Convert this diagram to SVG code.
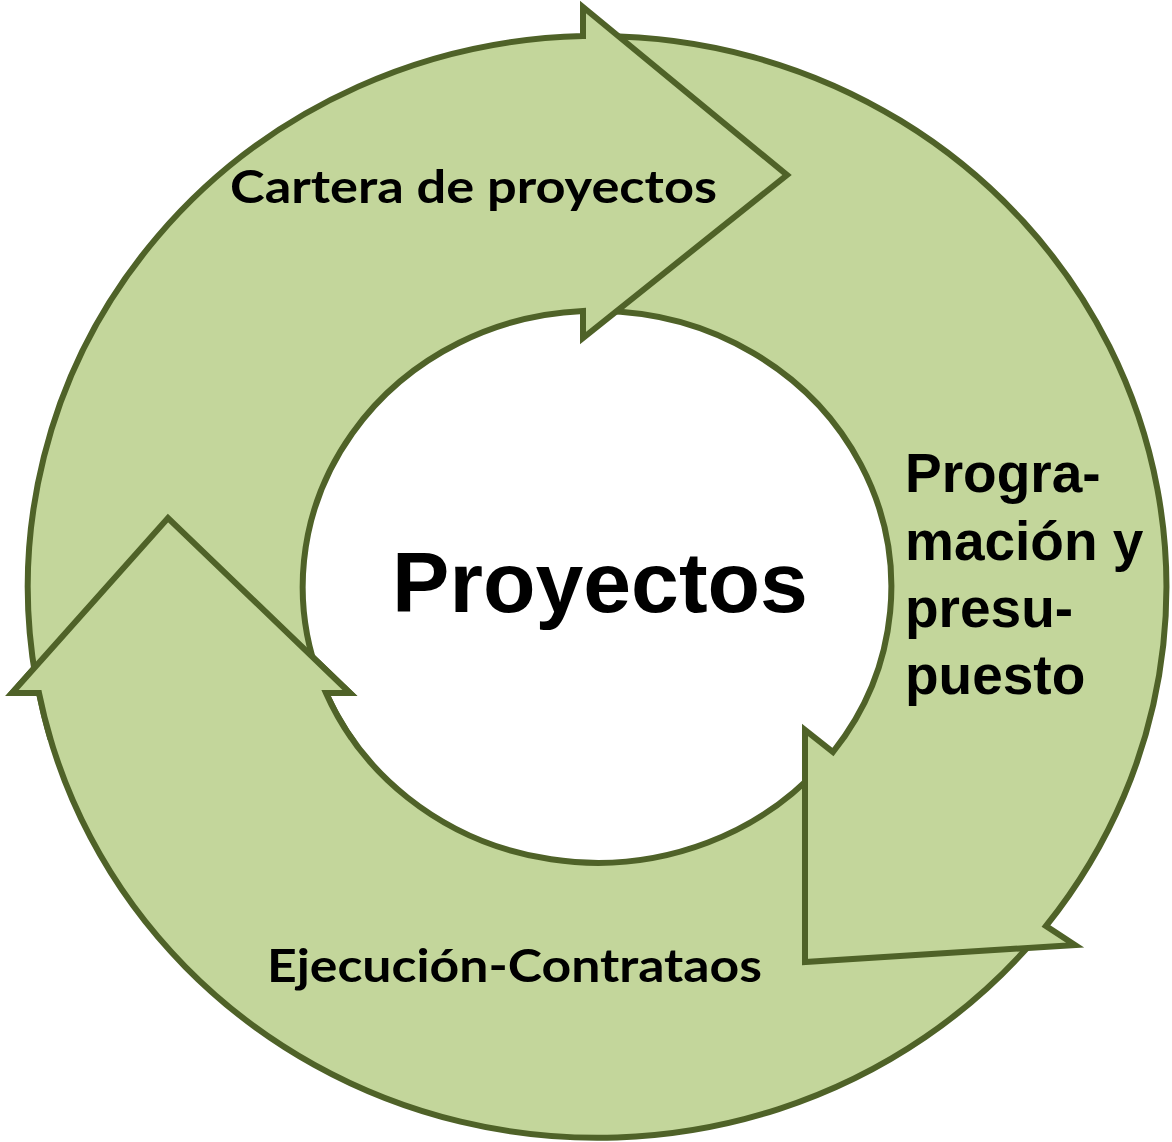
<svg xmlns="http://www.w3.org/2000/svg" xmlns:xlink="http://www.w3.org/1999/xlink" width="1172" height="1142" viewBox="0 0 1172 1142">
<style>
.arrow{fill:#C3D69B;stroke:#4F6228;stroke-width:6;stroke-linejoin:miter;stroke-miterlimit:10}
.lbl{font-family:Lato,"Liberation Sans",sans-serif;font-weight:bold;fill:#000}
.lbl2{font-family:"Liberation Sans",Arial,sans-serif;font-weight:bold;fill:#000}
</style>
<defs>
<clipPath id="leftClip"><rect x="0" y="480" width="420" height="260"/></clipPath>
</defs>
<rect width="1172" height="1142" fill="#fff"/>
<g id="connectors">
<g id="arrow-ejecucion">
<path id="arrowC" class="arrow" d="M1040,933 A569,551 0 0 1 39,693 L12,693 L168,518 L350,693 L326,693 A294,276 0 0 0 820,767 Z"/>
</g>
<g id="arrow-programacion">
<path id="arrowB" class="arrow" d="M600,36 A569,551 0 0 1 1046,926 L1075,945 L805,962 L805,730 L833,752 A294,276 0 0 0 600,311 Z"/>
</g>
<g id="arrow-cartera">
<path id="arrowA" class="arrow" d="M36,680 A569,551 0 0 1 583,36 L583,7 L787,175 L583,338 L583,311 A294,276 0 0 0 320,680 Z"/>
</g>
<use xlink:href="#arrowC" href="#arrowC" clip-path="url(#leftClip)"/>
</g>
<g id="node-center">
<text class="lbl2" x="600" y="612" font-size="86" text-anchor="middle">Proyectos</text>
</g>
<g id="node-cartera">
<text class="lbl" x="230" y="203" font-size="46" textLength="487" lengthAdjust="spacingAndGlyphs">Cartera de proyectos</text>
</g>
<g id="node-programacion">
<text class="lbl2" font-size="55">
<tspan x="905" y="492">Progra-</tspan>
<tspan x="905" y="560">mación y</tspan>
<tspan x="905" y="627">presu-</tspan>
<tspan x="905" y="694">puesto</tspan>
</text>
</g>
<g id="node-ejecucion">
<text class="lbl" x="267" y="982" font-size="45" textLength="495" lengthAdjust="spacingAndGlyphs">Ejecución-Contrataos</text>
</g>
</svg>
